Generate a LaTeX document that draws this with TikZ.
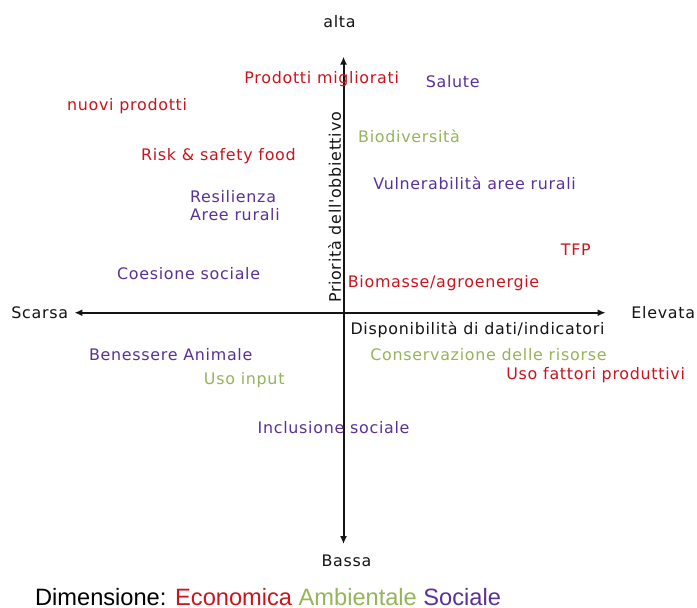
\documentclass[tikz,border=0pt]{standalone}
\usepackage{fontspec}
\setmainfont{DejaVu Sans}
\newfontfamily\goalfont[LetterSpace=4.5]{DejaVu Sans}
\newfontfamily\legendfont{Liberation Sans}
\usetikzlibrary{arrows.meta}
\definecolor{dimEconomic}{RGB}{204,20,30}
\definecolor{dimEnvironment}{RGB}{150,180,90}
\definecolor{dimSocial}{RGB}{90,50,150}
\definecolor{axisStroke}{RGB}{20,20,20}
\tikzset{
  goaltext/.style={font=\goalfont\fontsize{8}{9.5}\selectfont,inner sep=1pt},
  axisline/.style={axisStroke,line width=1pt,{Latex[length=4pt,width=3.5pt]}-{Latex[length=4pt,width=3.5pt]}}
}
\newcommand{\goal}[4]{%
  \node[goaltext,text=#3] (#1) at (#2) {#4};
}

\begin{document}
\begin{tikzpicture}[x=0.5pt,y=-0.5pt]
  \fill[white] (0,0) rectangle (697,610);
  \coordinate (scarsaEnd) at (75,315);
  \coordinate (elevataEnd) at (610,315);
  \coordinate (altaEnd) at (346,57);
  \coordinate (bassaEnd) at (346,548);
  \draw[axisline] (scarsaEnd) -- (elevataEnd);
  \draw[axisline] (bassaEnd) -- (altaEnd);
  \goal{alta}{342,22}{axisStroke}{alta}
  \goal{bassa}{349,565}{axisStroke}{Bassa}
  \goal{scarsa}{40,315}{axisStroke}{Scarsa}
  \goal{elevata}{668,315}{axisStroke}{Elevata}
  \goal{disponibilita}{481,332}{axisStroke}{Disponibilità di dati/indicatori}
  \node[goaltext,rotate=90,text=axisStroke] (priorita) at (337,209) {Priorità dell'obbiettivo};
  \goal{migliorati}{324,80}{dimEconomic}{Prodotti migliorati}
  \goal{nuovi}{128,107}{dimEconomic}{nuovi prodotti}
  \goal{risk}{220,157}{dimEconomic}{Risk \& safety food}
  \goal{tfp}{580,252}{dimEconomic}{TFP}
  \node[goaltext,text=dimEconomic,anchor=west] (biomasse) at (348,285) {Biomasse/agroenergie};
  \goal{fattori}{600,378}{dimEconomic}{Uso fattori produttivi}
  \goal{biodiversita}{412,137}{dimEnvironment}{Biodiversità}
  \goal{conservazione}{492,357}{dimEnvironment}{Conservazione delle risorse}
  \goal{input}{246,383}{dimEnvironment}{Uso input}
  \goal{salute}{456,82}{dimSocial}{Salute}
  \goal{vulnerabilita}{478,185}{dimSocial}{Vulnerabilità aree rurali}
  \node[goaltext,text=dimSocial,anchor=west,align=left] (resilienza) at (189,207) {Resilienza\\Aree rurali};
  \goal{coesione}{190,276}{dimSocial}{Coesione sociale}
  \goal{benessere}{172,357}{dimSocial}{Benessere Animale}
  \goal{inclusione}{336,431}{dimSocial}{Inclusione sociale}
  \node[anchor=west,inner sep=1pt,font=\legendfont\fontsize{11.9}{13}\selectfont] (legend) at (33,601)
    {Dimensione: \textcolor{dimEconomic}{Economica} \textcolor{dimEnvironment}{Ambientale} \textcolor{dimSocial}{Sociale}};
\end{tikzpicture}
\end{document}
